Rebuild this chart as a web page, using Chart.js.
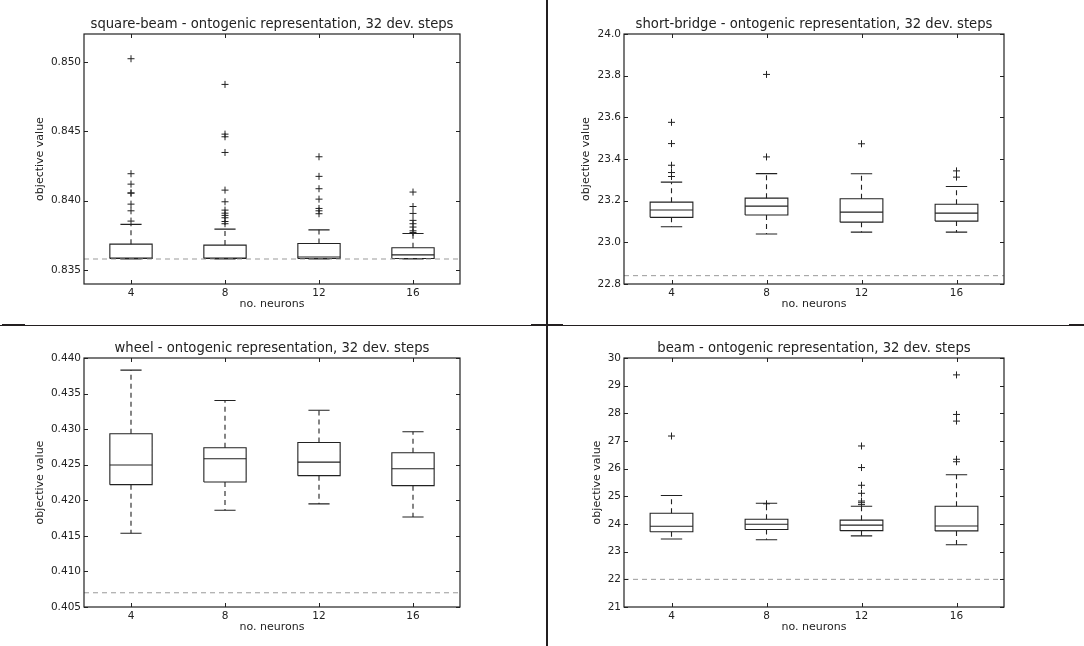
<!DOCTYPE html>
<html lang="en">
<head>
    <meta charset="UTF-8">
    <title>Ontogenic representation, 32 dev. steps</title>
    <style>
        body { margin: 0; background: #fff; }
        #page { position: relative; width: 1084px; height: 646px; overflow: hidden; }
        canvas { position: absolute; }
        .sep { position: absolute; background: #231f20; }
    </style>
</head>
<body>
<div id="page">
    <canvas id="sqChart" width="545" height="323" style="left:0;top:0"></canvas>
    <canvas id="brChart" width="536" height="323" style="left:548px;top:0"></canvas>
    <canvas id="whChart" width="545" height="320" style="left:0;top:326px"></canvas>
    <canvas id="bmChart" width="536" height="320" style="left:548px;top:326px"></canvas>

    <!-- separator lines between the panels -->
    <div class="sep" style="left:546px;top:0;width:2px;height:646px"></div>
    <div class="sep" style="left:0;top:325px;width:1084px;height:1px"></div>
    <div class="sep" style="left:2px;top:324px;width:23px;height:2px"></div>
    <div class="sep" style="left:531px;top:324px;width:32px;height:2px"></div>
    <div class="sep" style="left:1069px;top:324px;width:15px;height:2px"></div>
</div>

<script src="https://cdn.jsdelivr.net/npm/chart.js"></script>
<script>
    const categories = ['4', '8', '12', '16'];

    // square-beam
    const sqQ1  = [0.83584, 0.83584, 0.83584, 0.83584];
    const sqMed = [0.83587, 0.83587, 0.83594, 0.83610];
    const sqQ3  = [0.83687, 0.83680, 0.83692, 0.83661];
    const sqLo  = [0.83580, 0.83580, 0.83580, 0.83580];
    const sqHi  = [0.83829, 0.83795, 0.83790, 0.83764];
    const sqOut = [
        [0.83853, 0.83927, 0.83975, 0.84054, 0.84056, 0.84119, 0.84194, 0.85022],
        [0.83834, 0.83850, 0.83877, 0.83894, 0.83910, 0.83932, 0.83992, 0.84076, 0.84347, 0.84460, 0.84479, 0.84837],
        [0.83906, 0.83927, 0.83944, 0.84011, 0.84086, 0.84175, 0.84316],
        [0.83771, 0.83783, 0.83810, 0.83834, 0.83858, 0.83908, 0.83958, 0.84062]
    ];
    const sqRef = 0.8358;
    const sqTicks = [0.835, 0.840, 0.845, 0.850];

    // short-bridge
    const brQ1  = [23.120, 23.131, 23.097, 23.102];
    const brMed = [23.155, 23.174, 23.145, 23.140];
    const brQ3  = [23.193, 23.212, 23.209, 23.183];
    const brLo  = [23.075, 23.040, 23.049, 23.049];
    const brHi  = [23.289, 23.330, 23.329, 23.268];
    const brOut = [
        [23.316, 23.335, 23.370, 23.474, 23.576],
        [23.410, 23.806],
        [23.473],
        [23.313, 23.343]
    ];
    const brRef = 22.84;
    const brTicks = [22.8, 23.0, 23.2, 23.4, 23.6, 23.8, 24.0];

    // wheel
    const whQ1  = [0.42220, 0.42257, 0.42346, 0.42206];
    const whMed = [0.42495, 0.42584, 0.42537, 0.42444];
    const whQ3  = [0.42935, 0.42738, 0.42813, 0.42668];
    const whLo  = [0.41537, 0.41860, 0.41949, 0.41766];
    const whHi  = [0.43830, 0.43402, 0.43266, 0.42963];
    const whOut = [[], [], [], []];
    const whRef = 0.407;
    const whTicks = [0.405, 0.410, 0.415, 0.420, 0.425, 0.430, 0.435, 0.440];

    // beam
    const bmQ1  = [23.72, 23.80, 23.76, 23.75];
    const bmMed = [23.92, 23.99, 23.96, 23.93];
    const bmQ3  = [24.39, 24.17, 24.14, 24.64];
    const bmLo  = [23.46, 23.43, 23.57, 23.25];
    const bmHi  = [25.03, 24.75, 24.64, 25.78];
    const bmOut = [
        [27.18],
        [24.73],
        [24.70, 24.77, 24.83, 25.11, 25.40, 26.04, 26.82],
        [26.25, 26.34, 27.72, 27.96, 29.39]
    ];
    const bmRef = 22.0;
    const bmTicks = [21, 22, 23, 24, 25, 26, 27, 28, 29, 30];

    const INK = '#222';
    const FONT = 'DejaVu Sans';
    const TITLE_SIZE = 13.2;
    const BOX_HALF = 0.225;
    const CAP_HALF = 0.1125;

    // frame round the plot area and inward tick marks on all four sides
    const framePlugin = {
        id: 'frame',
        afterDatasetsDraw(chart) {
            const { ctx, chartArea: a, scales: { x, y } } = chart;
            ctx.save();
            ctx.strokeStyle = INK;
            ctx.lineWidth = 1;
            ctx.beginPath();
            y.ticks.forEach(t => {
                const py = Math.round(y.getPixelForValue(t.value)) + 0.5;
                ctx.moveTo(a.left, py); ctx.lineTo(a.left + 4, py);
                ctx.moveTo(a.right, py); ctx.lineTo(a.right - 4, py);
            });
            x.ticks.forEach(t => {
                const px = Math.round(x.getPixelForValue(t.value)) + 0.5;
                ctx.moveTo(px, a.top); ctx.lineTo(px, a.top + 4);
                ctx.moveTo(px, a.bottom); ctx.lineTo(px, a.bottom - 4);
            });
            ctx.stroke();
            ctx.lineWidth = 1.2;
            ctx.strokeRect(a.left, a.top, a.right - a.left, a.bottom - a.top);
            ctx.restore();
        }
    };

    function boxDatasets(q1, med, q3, lo, hi, out, ref) {
        const box = [], medLine = [], whisk = [], caps = [], fliers = [];
        categories.forEach((c, i) => {
            const p = i + 1;
            box.push({ x: p - BOX_HALF, y: q1[i] }, { x: p + BOX_HALF, y: q1[i] },
                     { x: p + BOX_HALF, y: q3[i] }, { x: p - BOX_HALF, y: q3[i] },
                     { x: p - BOX_HALF, y: q1[i] }, { x: p, y: null });
            medLine.push({ x: p - BOX_HALF, y: med[i] }, { x: p + BOX_HALF, y: med[i] }, { x: p, y: null });
            whisk.push({ x: p, y: q3[i] }, { x: p, y: hi[i] }, { x: p, y: null },
                       { x: p, y: q1[i] }, { x: p, y: lo[i] }, { x: p, y: null });
            caps.push({ x: p - CAP_HALF, y: hi[i] }, { x: p + CAP_HALF, y: hi[i] }, { x: p, y: null },
                      { x: p - CAP_HALF, y: lo[i] }, { x: p + CAP_HALF, y: lo[i] }, { x: p, y: null });
            out[i].forEach(v => fliers.push({ x: p, y: v }));
        });
        const line = (data, extra) => Object.assign({
            data, showLine: true, spanGaps: false, pointRadius: 0,
            borderColor: INK, borderWidth: 1.1, fill: false
        }, extra);
        return [
            line([{ x: 0.5, y: ref }, { x: 4.5, y: ref }], { borderColor: '#999', borderWidth: 1, borderDash: [5, 4] }),
            line(whisk, { borderDash: [5, 4] }),
            line(caps),
            line(box),
            line(medLine),
            { data: fliers, showLine: false, pointStyle: 'cross', pointRadius: 3.5,
              pointBorderColor: INK, pointBorderWidth: 1 }
        ];
    }

    function makeChart(id, title, sets, ticks, yMin, yMax, decimals, box) {
        const canvas = document.getElementById(id);
        return new Chart(canvas.getContext('2d'), {
            type: 'scatter',
            data: { datasets: sets },
            options: {
                responsive: false,
                animation: false,
                layout: { padding: { left: 0, top: 0, bottom: 0, right: canvas.width - box.right } },
                plugins: {
                    legend: { display: false },
                    tooltip: { enabled: false },
                    title: {
                        display: true, text: title, fullSize: false, color: INK,
                        font: { family: FONT, size: TITLE_SIZE, weight: 'normal', lineHeight: 1 },
                        padding: { top: box.titleTop, bottom: box.top - box.titleTop - TITLE_SIZE }
                    }
                },
                scales: {
                    x: {
                        type: 'linear', min: 0.5, max: 4.5,
                        grid: { display: false, drawTicks: false }, border: { display: false },
                        afterBuildTicks: s => { s.ticks = categories.map((c, i) => ({ value: i + 1 })); },
                        afterFit: s => { s.height = canvas.height - box.bottom; },
                        ticks: {
                            autoSkip: false, maxRotation: 0, padding: 3, color: INK,
                            font: { family: FONT, size: 10.5 },
                            callback: (v, i) => categories[i]
                        },
                        title: {
                            display: true, text: 'no. neurons', color: INK,
                            font: { family: FONT, size: 11, lineHeight: 1 },
                            padding: { top: 0, bottom: 13 }
                        }
                    },
                    y: {
                        min: yMin, max: yMax,
                        grid: { display: false, drawTicks: false }, border: { display: false },
                        afterBuildTicks: s => { s.ticks = ticks.map(v => ({ value: v })); },
                        afterFit: s => { s.width = box.left; },
                        ticks: {
                            padding: 3, color: INK,
                            font: { family: FONT, size: 10.5 },
                            callback: v => Number(v).toFixed(decimals)
                        },
                        title: {
                            display: true, text: 'objective value', color: INK,
                            font: { family: FONT, size: 11, lineHeight: 1 },
                            padding: { top: box.yTitle - 5.5, bottom: 0 }
                        }
                    }
                }
            },
            plugins: [framePlugin]
        });
    }

    makeChart('sqChart', 'square-beam - ontogenic representation, 32 dev. steps',
        boxDatasets(sqQ1, sqMed, sqQ3, sqLo, sqHi, sqOut, sqRef), sqTicks, 0.834, 0.852, 3,
        { left: 84, right: 460, top: 34, bottom: 284, titleTop: 18, yTitle: 40.5 });

    makeChart('brChart', 'short-bridge - ontogenic representation, 32 dev. steps',
        boxDatasets(brQ1, brMed, brQ3, brLo, brHi, brOut, brRef), brTicks, 22.8, 24.0, 1,
        { left: 76, right: 456, top: 34, bottom: 284, titleTop: 18, yTitle: 38 });

    makeChart('whChart', 'wheel - ontogenic representation, 32 dev. steps',
        boxDatasets(whQ1, whMed, whQ3, whLo, whHi, whOut, whRef), whTicks, 0.405, 0.440, 3,
        { left: 84, right: 460, top: 32, bottom: 281, titleTop: 16, yTitle: 39.7 });

    makeChart('bmChart', 'beam - ontogenic representation, 32 dev. steps',
        boxDatasets(bmQ1, bmMed, bmQ3, bmLo, bmHi, bmOut, bmRef), bmTicks, 21, 30, 0,
        { left: 76, right: 456, top: 32, bottom: 281, titleTop: 16, yTitle: 49.3 });
</script>
</body>
</html>
